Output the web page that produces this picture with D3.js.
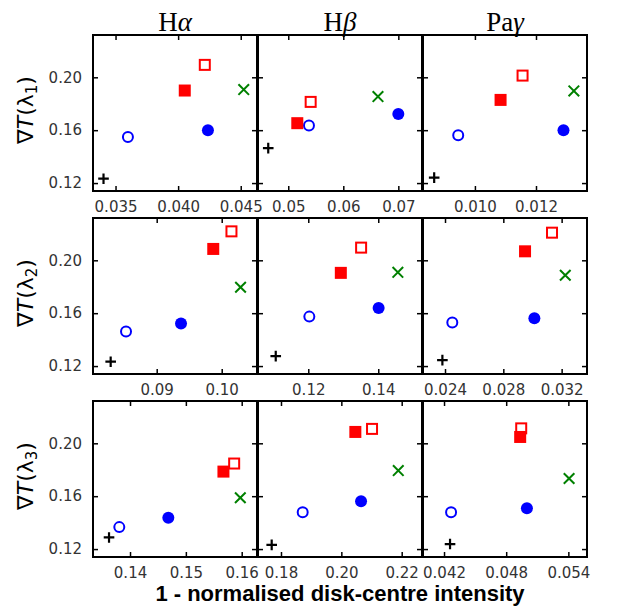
<!DOCTYPE html>
<html><head><meta charset="utf-8">
<script src="https://cdn.jsdelivr.net/npm/d3@7"></script>
<style>body{margin:0;background:#fff}</style>
</head><body>
<script>
// ---- data ----
const columns = ["H", "H", "Pa"];
const columnGreek = ["α", "β", "γ"];
const rowLabels = ["1", "2", "3"];
const xLabel = "1 - normalised disk-centre intensity";

const yDomain = [0.114, 0.232];
const yTicks = [0.12, 0.16, 0.20];
const yTickLabels = ["0.12", "0.16", "0.20"];

const xDomains = [
  [[0.0332, 0.0463], [0.0445, 0.0743], [0.0083, 0.01367]],
  [[0.0802, 0.10543], [0.10563, 0.1525], [0.02249, 0.03374]],
  [[0.13337, 0.16274], [0.17238, 0.22673], [0.03997, 0.0558]]
];
const xTicks = [
  [[0.035, 0.040, 0.045], [0.05, 0.06, 0.07], [0.010, 0.012]],
  [[0.09, 0.10], [0.12, 0.14], [0.024, 0.028, 0.032]],
  [[0.14, 0.15, 0.16], [0.18, 0.20, 0.22], [0.042, 0.048, 0.054]]
];
const xTickLabels = [
  [["0.035", "0.040", "0.045"], ["0.05", "0.06", "0.07"], ["0.010", "0.012"]],
  [["0.09", "0.10"], ["0.12", "0.14"], ["0.024", "0.028", "0.032"]],
  [["0.14", "0.15", "0.16"], ["0.18", "0.20", "0.22"], ["0.042", "0.048", "0.054"]]
];

// series values [row][col]
const plusX = [[0.03404, 0.04636, 0.008666], [0.08292, 0.1107, 0.02382], [0.13624, 0.17692, 0.04258]];
const plusY = [[0.1233, 0.1464, 0.1241], [0.1233, 0.1275, 0.1245], [0.1288, 0.1232, 0.1238]];
const openCircleX = [[0.03599, 0.05376, 0.009453], [0.08528, 0.1203, 0.0245], [0.13808, 0.18719, 0.04268]];
const openCircleY = [[0.1549, 0.1635, 0.1562], [0.1461, 0.1574, 0.1529], [0.1366, 0.1479, 0.1479]];
const filledCircleX = [[0.04238, 0.0700, 0.0129], [0.09374, 0.1401, 0.03013], [0.14686, 0.20653, 0.0500]];
const filledCircleY = [[0.1600, 0.1723, 0.1600], [0.1522, 0.1640, 0.1562], [0.1437, 0.1562, 0.1509]];
const filledSquareX = [[0.04053, 0.05164, 0.01084], [0.0987, 0.1293, 0.02949], [0.15673, 0.20464, 0.04935]];
const filledSquareY = [[0.1900, 0.1653, 0.1829], [0.2086, 0.1905, 0.2068], [0.1786, 0.2086, 0.2048]];
const openSquareX = [[0.04213, 0.05407, 0.01156], [0.1015, 0.1351, 0.03134], [0.15865, 0.21017, 0.04945]];
const openSquareY = [[0.2094, 0.1814, 0.2013], [0.2219, 0.2096, 0.2209], [0.1847, 0.2109, 0.2113]];
const crossX = [[0.04524, 0.0663, 0.01324], [0.1029, 0.1456, 0.03225], [0.15975, 0.21887, 0.05407]];
const crossY = [[0.1907, 0.1854, 0.1897], [0.1796, 0.1909, 0.1887], [0.1588, 0.1794, 0.1734]];

const seriesList = [
  {x: plusX, y: plusY, kind: "plus", color: "#000000"},
  {x: openCircleX, y: openCircleY, kind: "openCircle", color: "#0000ff"},
  {x: filledCircleX, y: filledCircleY, kind: "filledCircle", color: "#0000ff"},
  {x: filledSquareX, y: filledSquareY, kind: "filledSquare", color: "#ff0000"},
  {x: openSquareX, y: openSquareY, kind: "openSquare", color: "#ff0000"},
  {x: crossX, y: crossY, kind: "cross", color: "#008000"}
];

// ---- layout ----
const W = 619, H = 610;
const panelLeft = [93, 258, 423], panelW = 164;
const panelTop = [35, 218, 401], panelH = 156;

const svg = d3.select("body").append("svg").attr("width", W).attr("height", H);

const tickFont = "DejaVu Sans, sans-serif";
const tickSize = 15;
const tickLen = 5;

for (let r = 0; r < 3; r++) {
  for (let c = 0; c < 3; c++) {
    const x0 = panelLeft[c], y0 = panelTop[r];
    const xs = d3.scaleLinear().domain(xDomains[r][c]).range([x0, x0 + panelW]);
    const ys = d3.scaleLinear().domain(yDomain).range([y0 + panelH, y0]);
    const g = svg.append("g");

    // markers
    seriesList.forEach(s => {
      const px = xs(s.x[r][c]), py = ys(s.y[r][c]);
      if (s.kind === "plus") {
        g.append("path").attr("d", `M${px-5.3},${py}H${px+5.3}M${px},${py-5.3}V${py+5.3}`)
          .attr("stroke", s.color).attr("stroke-width", 2.2).attr("fill", "none");
      } else if (s.kind === "cross") {
        const d = 5.3;
        g.append("path").attr("d", `M${px-d},${py-d}L${px+d},${py+d}M${px-d},${py+d}L${px+d},${py-d}`)
          .attr("stroke", s.color).attr("stroke-width", 2).attr("fill", "none");
      } else if (s.kind === "openCircle") {
        g.append("circle").attr("cx", px).attr("cy", py).attr("r", 5)
          .attr("stroke", s.color).attr("stroke-width", 2).attr("fill", "none");
      } else if (s.kind === "filledCircle") {
        g.append("circle").attr("cx", px).attr("cy", py).attr("r", 6).attr("fill", s.color);
      } else if (s.kind === "filledSquare") {
        g.append("rect").attr("x", px - 6).attr("y", py - 6).attr("width", 12).attr("height", 12).attr("fill", s.color);
      } else if (s.kind === "openSquare") {
        g.append("rect").attr("x", px - 5).attr("y", py - 5).attr("width", 10).attr("height", 10)
          .attr("stroke", s.color).attr("stroke-width", 2).attr("fill", "none");
      }
    });

    // axes: inward ticks on all sides
    const xt = xTicks[r][c], xl = xTickLabels[r][c];
    const axB = d3.axisBottom(xs).tickValues(xt).tickSizeInner(-tickLen).tickSizeOuter(0).tickFormat((d, i) => xl[i]).tickPadding(10);
    const axT = d3.axisTop(xs).tickValues(xt).tickSizeInner(-tickLen).tickSizeOuter(0).tickFormat("");
    const axL = d3.axisLeft(ys).tickValues(yTicks).tickSizeInner(-tickLen).tickSizeOuter(0).tickFormat((d, i) => yTickLabels[i]).tickPadding(11);
    const axR = d3.axisRight(ys).tickValues(yTicks).tickSizeInner(-tickLen).tickSizeOuter(0).tickFormat("");

    const gB = g.append("g").attr("transform", `translate(0,${y0 + panelH})`).call(axB);
    const gT = g.append("g").attr("transform", `translate(0,${y0})`).call(axT);
    const gR = g.append("g").attr("transform", `translate(${x0 + panelW},0)`).call(axR);
    const gL = g.append("g").attr("transform", `translate(${x0},0)`).call(axL);
    [gB, gT, gL, gR].forEach(a => {
      a.select(".domain").remove();
      a.selectAll(".tick line").attr("stroke", "#000").attr("stroke-width", 1.5);
    });
    if (c !== 0) gL.selectAll(".tick text").remove();
    gB.selectAll(".tick text").attr("font-family", tickFont).attr("font-size", tickSize).attr("fill", "#333").attr("dy", "0.71em");
    gL.selectAll(".tick text").attr("font-family", tickFont).attr("font-size", tickSize).attr("fill", "#333");

    // frame
    g.append("rect").attr("x", x0).attr("y", y0).attr("width", panelW).attr("height", panelH)
      .attr("fill", "none").attr("stroke", "#000").attr("stroke-width", 2);
  }
}

// column titles
for (let c = 0; c < 3; c++) {
  const t = svg.append("text").attr("x", panelLeft[c] + panelW / 2).attr("y", 31)
    .attr("text-anchor", "middle").attr("font-family", "Liberation Serif, serif").attr("font-size", 27).attr("fill", "#000");
  t.append("tspan").text(columns[c]);
  t.append("tspan").attr("font-style", "italic").text(columnGreek[c]);
}

// row labels
for (let r = 0; r < 3; r++) {
  const cy = panelTop[r] + panelH / 2 - 3;
  const t = svg.append("text").attr("transform", `translate(33,${cy}) rotate(-90)`)
    .attr("text-anchor", "middle").attr("font-family", "DejaVu Sans, sans-serif").attr("font-size", 22).attr("fill", "#000");
  t.append("tspan").text("∇");
  t.append("tspan").attr("font-style", "italic").text("T");
  t.append("tspan").text("(λ");
  t.append("tspan").attr("font-size", 15).attr("dy", 4).text(rowLabels[r]);
  t.append("tspan").attr("dy", -4).text(")");
}

// x label
svg.append("text").attr("x", 340).attr("y", 601).attr("text-anchor", "middle")
  .attr("font-family", "Liberation Sans, Arial, sans-serif").attr("font-weight", "bold").attr("font-size", 22)
  .attr("fill", "#000").text(xLabel);
</script>
</body></html>
